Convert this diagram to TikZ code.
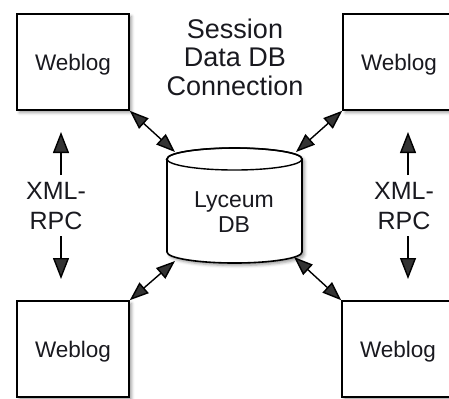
\documentclass[tikz,border=0pt]{standalone}
\usepackage{fontspec}
\setmainfont{Liberation Sans}
\usetikzlibrary{arrows.meta,shadows.blur}
\definecolor{txt}{rgb}{0.1,0.1,0.12}
\begin{document}
\begin{tikzpicture}[x=1bp,y=-1bp,
  softshadow/.style={blur shadow={shadow xshift=2.5bp, shadow yshift=-2.5bp, shadow blur radius=3bp, shadow opacity=40}},
  blogbox/.style={draw, line width=1.6bp, fill=white, minimum width=112bp, minimum height=96bp,
    inner sep=0pt, text=txt, font=\fontsize{22.5bp}{25bp}\selectfont, text height=16.5bp, text depth=0bp, softshadow},
  lbl/.style={align=center, inner sep=0pt, text=txt},
  dbl/.style={line width=1.4bp, {Triangle[length=19bp,width=14bp]}-{Triangle[length=19bp,width=14bp]}},
  vert/.style={line width=1.4bp, -{Triangle[length=21bp,width=16bp]}}]
\useasboundingbox (0,0) rectangle (449,398);
\clip (0,0) rectangle (449,398);

% Weblog boxes
\node[blogbox] (tl) at (73,62) {Weblog};
\node[blogbox] (tr) at (399,62) {Weblog};
\node[blogbox] (bl) at (73,349) {Weblog};
\node[blogbox] (br) at (398,349) {Weblog};

% Cylinder (Lyceum DB)
\path[draw, line width=1.6bp, fill=white, softshadow]
  (167,159) -- (167,252) arc[start angle=180, end angle=360, x radius=67.5bp, y radius=11bp]
  -- (302,159) arc[start angle=0, end angle=180, x radius=67.5bp, y radius=11bp] -- cycle;
\draw[line width=1.4bp] (234.5,159) ellipse[x radius=67.5bp, y radius=11bp];
\node[lbl, font=\fontsize{23bp}{25bp}\selectfont] (db) at (234,212) {Lyceum\\DB};

% cylinder connection points
\coordinate (c1) at (175,152);
\coordinate (c2) at (296,152);
\coordinate (c3) at (175,261);
\coordinate (c4) at (294,257);

% labels
\node[lbl, font=\fontsize{27bp}{28.5bp}\selectfont] (sess) at (235,57) {Session\\Data DB\\Connection};
\node[lbl, font=\fontsize{25bp}{30bp}\selectfont] (xl) at (56,206.5) {XML-\\RPC};
\node[lbl, font=\fontsize{25bp}{30bp}\selectfont] (xr) at (404,206.5) {XML-\\RPC};

% vertical arrow coordinates
\coordinate (lu0) at (61,175);
\coordinate (lu1) at (61,132);
\coordinate (ld0) at (61,236);
\coordinate (ld1) at (61,279);
\coordinate (ru0) at (408,175);
\coordinate (ru1) at (408,132);
\coordinate (rd0) at (408,236);
\coordinate (rd1) at (408,279);

% connectors
\draw[dbl] (tl.south east) -- (c1);
\draw[dbl] (tr.south west) -- (c2);
\draw[dbl] (bl.north east) -- (c3);
\draw[dbl] (br.north west) -- (c4);

\draw[vert] (lu0) -- (lu1);
\draw[vert] (ld0) -- (ld1);
\draw[vert] (ru0) -- (ru1);
\draw[vert] (rd0) -- (rd1);
\end{tikzpicture}
\end{document}
